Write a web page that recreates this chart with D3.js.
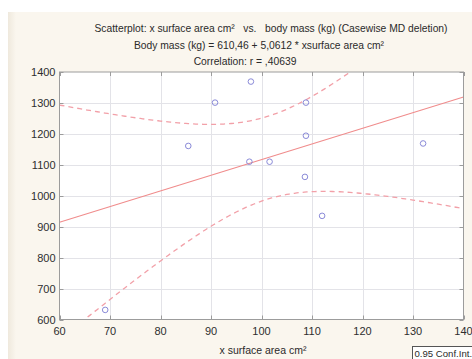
<!DOCTYPE html>
<html>
<head>
<meta charset="utf-8">
<script src="https://cdn.jsdelivr.net/npm/d3@7"></script>
<style>
  html, body { margin: 0; padding: 0; background: #ffffff; }
  svg { display: block; font-family: "Liberation Sans", Arial, sans-serif; }
</style>
</head>
<body>
<svg id="chart" width="472" height="359"></svg>
<script>
// Observations: x surface area (cm²) and body mass (kg)
const surfaceArea = [69.05, 85.5, 90.8, 97.9, 97.6, 101.6, 108.8, 108.8, 108.6, 112.0, 132.0];
const bodyMass    = [631, 1161, 1301, 1369, 1110, 1110, 1301, 1194, 1061, 935, 1169];

// Fitted line as reported
const intercept = 610.46;
const slope = 5.0612;

const xTicks = [60, 70, 80, 90, 100, 110, 120, 130, 140];
const yTicks = [600, 700, 800, 900, 1000, 1100, 1200, 1300, 1400];

const titleLines = [
  "Scatterplot: x surface area cm²   vs.   body mass (kg) (Casewise MD deletion)",
  "Body mass (kg) = 610,46 + 5,0612 * xsurface area cm²",
  "Correlation: r = ,40639"
];
const xLabel = "x surface area cm²";
const legendLabel = "0.95 Conf.Int.";

const svg = d3.select("#chart");
const W = 472, H = 359;
const m = { left: 59.5, right: 463.5, top: 72, bottom: 319.5 };

// panel background
const defs = svg.append("defs");
const grad = defs.append("linearGradient").attr("id", "edge").attr("x1", 0).attr("x2", 1);
grad.append("stop").attr("offset", 0).attr("stop-color", "#efe9dd");
grad.append("stop").attr("offset", 1).attr("stop-color", "#faf6ee");
svg.append("rect").attr("x", 8).attr("y", 12).attr("width", W - 8).attr("height", H - 12).attr("fill", "#faf6ee");
svg.append("rect").attr("x", 8).attr("y", 12).attr("width", 8).attr("height", H - 12).attr("fill", "url(#edge)");

const x = d3.scaleLinear().domain([60, 140]).range([m.left, m.right]);
const y = d3.scaleLinear().domain([600, 1400]).range([m.bottom, m.top]);

svg.append("rect")
  .attr("x", m.left).attr("y", m.top)
  .attr("width", m.right - m.left).attr("height", m.bottom - m.top)
  .attr("fill", "#ffffff");

// grid
const grid = svg.append("g").attr("stroke", "#e3e3e8").attr("stroke-width", 1);
grid.selectAll("line.v").data(xTicks.slice(1, -1)).join("line")
  .attr("x1", d => Math.round(x(d)) + 0.5).attr("x2", d => Math.round(x(d)) + 0.5)
  .attr("y1", m.top).attr("y2", m.bottom);
grid.selectAll("line.h").data(yTicks.slice(1, -1)).join("line")
  .attr("y1", d => Math.round(y(d)) + 0.5).attr("y2", d => Math.round(y(d)) + 0.5)
  .attr("x1", m.left).attr("x2", m.right);

// 95% confidence band for the mean response
const n = surfaceArea.length;
const xbar = d3.mean(surfaceArea);
const sxx = d3.sum(surfaceArea, v => (v - xbar) ** 2);
const sse = d3.sum(surfaceArea, (v, i) => (bodyMass[i] - (intercept + slope * v)) ** 2);
const s = Math.sqrt(sse / (n - 2));
const t = 2.262; // t(0.975, 9)
const xs = d3.range(60, 140.001, 0.5);
const band = sign => xs.map(v => {
  const hw = t * s * Math.sqrt(1 / n + (v - xbar) ** 2 / sxx);
  return [v, intercept + slope * v + sign * hw];
});

svg.append("clipPath").attr("id", "plot").append("rect")
  .attr("x", m.left).attr("y", m.top)
  .attr("width", m.right - m.left).attr("height", m.bottom - m.top);

const plot = svg.append("g").attr("clip-path", "url(#plot)");
const line = d3.line().x(d => x(d[0])).y(d => y(d[1]));

[band(1), band(-1)].forEach(b => {
  plot.append("path").attr("d", line(b))
    .attr("fill", "none").attr("stroke", "#f2a0a8").attr("stroke-width", 1.3)
    .attr("stroke-dasharray", "5,4");
});

plot.append("path")
  .attr("d", line([[60, intercept + slope * 60], [140, intercept + slope * 140]]))
  .attr("fill", "none").attr("stroke", "#f08c8c").attr("stroke-width", 1.1);

plot.selectAll("circle").data(surfaceArea).join("circle")
  .attr("cx", d => x(d)).attr("cy", (d, i) => y(bodyMass[i]))
  .attr("r", 2.8).attr("fill", "none")
  .attr("stroke", "#8a8ad8").attr("stroke-width", 1);

// frame and inward ticks on all sides
const frame = svg.append("g").attr("stroke", "#9c9c9c").attr("stroke-width", 1);
frame.append("rect")
  .attr("x", m.left).attr("y", m.top)
  .attr("width", m.right - m.left).attr("height", m.bottom - m.top)
  .attr("fill", "none");
xTicks.forEach(v => {
  const px = Math.round(x(v)) + 0.5;
  frame.append("line").attr("x1", px).attr("x2", px).attr("y1", m.bottom).attr("y2", m.bottom - 4);
  frame.append("line").attr("x1", px).attr("x2", px).attr("y1", m.top).attr("y2", m.top + 4);
});
yTicks.forEach(v => {
  const py = Math.round(y(v)) + 0.5;
  frame.append("line").attr("y1", py).attr("y2", py).attr("x1", m.left).attr("x2", m.left + 4);
  frame.append("line").attr("y1", py).attr("y2", py).attr("x1", m.right).attr("x2", m.right - 4);
});

// tick labels
svg.append("g").selectAll("text").data(yTicks).join("text")
  .attr("x", m.left - 4).attr("y", d => y(d) + 4)
  .attr("text-anchor", "end").attr("font-size", 11).attr("fill", "#2e2e2e")
  .text(d => d);
svg.append("g").selectAll("text").data(xTicks).join("text")
  .attr("x", d => x(d)).attr("y", m.bottom + 15)
  .attr("text-anchor", "middle").attr("font-size", 11).attr("fill", "#2e2e2e")
  .text(d => d);

// titles
const titleX = [271, 259, 245];
const titleY = [32, 48.5, 64.5];
svg.append("g").selectAll("text").data(titleLines).join("text")
  .attr("x", (d, i) => titleX[i]).attr("y", (d, i) => titleY[i])
  .attr("text-anchor", "middle").attr("font-size", 10.3).attr("fill", "#2a2a2a")
  .attr("xml:space", "preserve")
  .text(d => d);

svg.append("text")
  .attr("x", 263).attr("y", 354)
  .attr("text-anchor", "middle").attr("font-size", 10.5).attr("fill", "#2a2a2a")
  .text(xLabel);

// legend box
const lg = svg.append("g");
lg.append("rect").attr("x", 412.5).attr("y", 346.5).attr("width", 70).attr("height", 18)
  .attr("fill", "#ffffff").attr("stroke", "#555").attr("stroke-width", 1);
lg.append("text").attr("x", 414.5).attr("y", 357)
  .attr("font-size", 9.6).attr("fill", "#2a2a2a").text(legendLabel);
</script>
</body>
</html>
